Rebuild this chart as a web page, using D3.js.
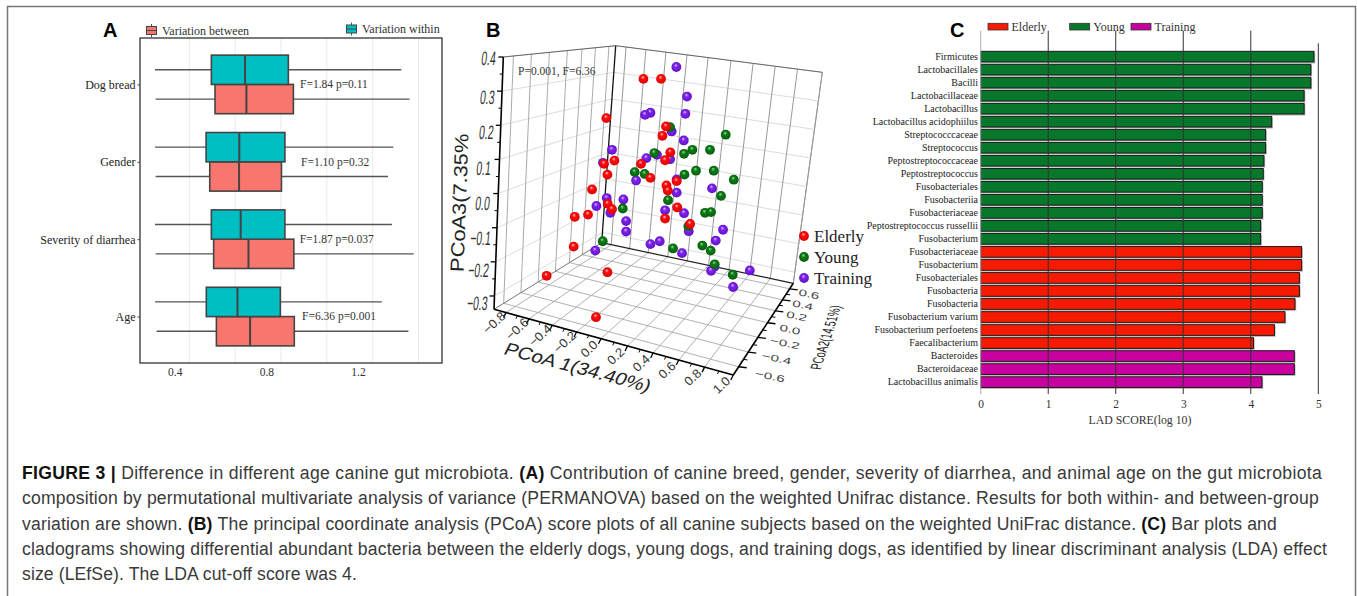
<!DOCTYPE html>
<html>
<head>
<meta charset="utf-8">
<script src="https://cdn.jsdelivr.net/npm/d3@7"></script>
<style>
body{margin:0;background:#fff;}
svg{display:block;}
.serif{font-family:"Liberation Serif",serif;}
.sans{font-family:"Liberation Sans",sans-serif;}
</style>
</head>
<body>
<script>
// panel A
var boxCategories=["Dog bread","Gender","Severity of diarrhea","Age"];
// low, q1, median, q3, high
var withinStats=[[.314,.560,.707,.896,1.389],[.314,.537,.682,.881,1.354],[.314,.560,.688,.881,1.348],[.314,.538,.674,.861,1.304]];
var betweenStats=[[.317,.576,.713,.918,1.425],[.317,.553,.681,.866,1.331],[.317,.570,.722,.920,1.443],[.321,.582,.729,.922,1.420]];
var boxNotes=["F=1.84 p=0.11","F=1.10 p=0.32","F=1.87 p=0.037","F=6.36 p=0.001"];
var boxTicks=[.4,.8,1.2];
var boxGrid=[.464,.664,.864,1.064,1.264,1.464];

// panel B, [PCoA1, PCoA3] as read along the drawn axes
var elderlyPts=[[.319,.340],[.450,.340],[.043,.231],[.487,.208],[.460,.182],[.519,.136],[.480,.114],[.103,.113],[.026,.104],[.301,.104],[.051,.074],[.371,.065],[.566,.056],[.490,.044],[.500,.030],[-.063,.033],[.053,-.007],[.085,-.022],[-.093,-.037],[-.192,-.043],[.571,-.017],[.480,-.048],[.666,-.063],[-.200,-.126],[-.401,-.207],[.051,-.197],[-.034,-.322]];
var youngPts=[[.517,.206],[.931,.185],[.814,.143],[.683,.143],[.621,.132],[.400,.134],[.710,.085],[.842,.085],[.624,.074],[.254,.081],[.328,.076],[.991,.060],[.896,.015],[.502,.003],[.165,-.020],[.777,-.032],[.822,-.030],[.653,-.069],[.016,-.111],[.757,-.123],[.819,-.137],[.539,-.131],[.849,-.175],[.983,-.204]];
var trainingPts=[[.564,.373],[.643,.291],[.631,.243],[.371,.246],[.331,.240],[.529,.194],[.619,.169],[.085,.143],[.018,.107],[.420,.129],[.517,.117],[.341,.120],[.264,.058],[.566,.061],[.829,.036],[.566,.024],[.046,.009],[.170,.005],[-.031,-.013],[.073,-.032],[.480,-.025],[.621,-.033],[.190,-.055],[.190,-.084],[.656,-.083],[.911,-.079],[.371,-.119],[.440,-.111],[.857,-.109],[.606,-.144],[-.039,-.137],[.847,-.182],[.822,-.193],[1.110,-.192],[.986,-.238]];
var pc1Ticks=[-.8,-.6,-.4,-.2,0,.2,.4,.6,.8,1];
var pc2Ticks=[-.6,-.4,-.2,0,.2,.4,.6];
var pc3Ticks=[-.3,-.2,-.1,0,.1,.2,.3,.4];

// panel C
var lefseNames=["Firmicutes","Lactobacillales","Bacilli","Lactobacillaceae","Lactobacillus","Lactobacillus acidophiilus","Streptococccaceae","Streptococcus","Peptostreptococcaceae","Peptostreptococcus","Fusobacteriales","Fusobacteriia","Fusobacteriaceae","Peptostreptococcus russellii","Fusobacterium","Fusobacteriaceae","Fusobacterium","Fusobacteriales","Fusobacteria","Fusobacteria","Fusobacterium varium","Fusobacterium perfoetens","Faecalibacterium","Bacteroides","Bacteroidaceae","Lactobacillus animalis"];
var lefseScores=[4.936,4.89,4.89,4.79,4.79,4.31,4.22,4.22,4.195,4.185,4.17,4.17,4.17,4.146,4.146,4.753,4.753,4.72,4.72,4.655,4.506,4.35,4.04,4.645,4.645,4.166];
var lefseGroups=["Y","Y","Y","Y","Y","Y","Y","Y","Y","Y","Y","Y","Y","Y","Y","E","E","E","E","E","E","E","E","T","T","T"];
var lefseTicks=[0,1,2,3,4,5];

var captionLines=[
 [["FIGURE 3 | ",1],["Difference in different age canine gut microbiota. ",0],["(A) ",1],["Contribution of canine breed, gender, severity of diarrhea, and animal age on the gut microbiota",0]],
 [["composition by permutational multivariate analysis of variance (PERMANOVA) based on the weighted Unifrac distance. Results for both within- and between-group",0]],
 [["variation are shown. ",0],["(B) ",1],["The principal coordinate analysis (PCoA) score plots of all canine subjects based on the weighted UniFrac distance. ",0],["(C) ",1],["Bar plots and",0]],
 [["cladograms showing differential abundant bacteria between the elderly dogs, young dogs, and training dogs, as identified by linear discriminant analysis (LDA) effect",0]],
 [["size (LEfSe). The LDA cut-off score was 4.",0]]
];
var captionEnds=[1322,1319,1277,1327,357];

var svg=d3.select("body").append("svg").attr("width",1357).attr("height",596);

// outer frame
svg.append("path").attr("d","M7.5,596V6.5H1355.5V596").attr("fill","none").attr("stroke","#777").attr("stroke-width",1.5);

function panelLetter(t,x){
    svg.append("text").attr("class","sans").attr("x",x).attr("y",37).attr("font-size",20).attr("font-weight","bold").attr("fill","#000").text(t);
}
panelLetter("A",103);panelLetter("B",486);panelLetter("C",950);

/* ---------- A ---------- */
var ax=d3.scaleLinear().domain([.2486,1.5666]).range([140,442]);
var ay=d3.scalePoint().domain(boxCategories).range([38,363]).padding(.6);
var boxH=29.3;
var colWithin="#00BFC4",colBetween="#F8766D",boxLine="#444";

var A=svg.append("g");
A.selectAll(".grid").data(boxGrid).enter().append("line")
    .attr("x1",ax).attr("x2",ax).attr("y1",38).attr("y2",363).attr("stroke","#ebebeb").attr("stroke-width",1);

function drawBoxes(stats,fill,off){
    var g=A.selectAll(null).data(stats).enter().append("g");
    function cy(i){return ay(boxCategories[i])+off;}
    g.append("line").attr("x1",function(d){return ax(d[0]);}).attr("x2",function(d){return ax(d[4]);})
        .attr("y1",function(d,i){return cy(i);}).attr("y2",function(d,i){return cy(i);})
        .attr("stroke","#555").attr("stroke-width",1.4);
    g.append("rect").attr("x",function(d){return ax(d[1]);}).attr("width",function(d){return ax(d[3])-ax(d[1]);})
        .attr("y",function(d,i){return cy(i)-boxH/2;}).attr("height",boxH)
        .attr("fill",fill).attr("stroke",boxLine).attr("stroke-width",1.6);
    g.append("line").attr("x1",function(d){return ax(d[2]);}).attr("x2",function(d){return ax(d[2]);})
        .attr("y1",function(d,i){return cy(i)-boxH/2;}).attr("y2",function(d,i){return cy(i)+boxH/2;})
        .attr("stroke",boxLine).attr("stroke-width",2);
}
drawBoxes(betweenStats,colBetween,boxH/2);
drawBoxes(withinStats,colWithin,-boxH/2);

A.append("rect").attr("x",140).attr("y",38).attr("width",302).attr("height",325).attr("fill","none").attr("stroke","#333").attr("stroke-width",1.3);

var axB=A.append("g").attr("class","serif").attr("transform","translate(0,363)")
    .call(d3.axisBottom(ax).tickValues(boxTicks).tickSize(0).tickPadding(5).tickFormat(d3.format(".1f")));
axB.select(".domain").remove();
axB.selectAll("text").attr("font-size",11.5).attr("fill","#333").attr("font-family","Liberation Serif");

var axL=A.append("g").attr("class","serif").attr("transform","translate(140,0)")
    .call(d3.axisLeft(ay).tickSize(2.5).tickPadding(2));
axL.select(".domain").remove();
axL.selectAll("line").attr("stroke","#444");
axL.selectAll("text").attr("font-size",12).attr("fill","#222").attr("font-family","Liberation Serif");

var noteX=[300,301,299.7,302];
A.selectAll(".note").data(boxNotes).enter().append("text").attr("class","serif")
    .attr("x",function(d,i){return noteX[i];})
    .attr("y",function(d,i){return ay(boxCategories[i]);})
    .attr("dy",".33em").attr("font-size",11.5).attr("fill","#333").text(function(d){return d;});

function boxKey(x,y,fill,label){
    A.append("line").attr("x1",x+5).attr("x2",x+5).attr("y1",y-1.5).attr("y2",y+11.5).attr("stroke","#555");
    A.append("rect").attr("x",x).attr("y",y+1).attr("width",10).attr("height",8).attr("fill",fill).attr("stroke",boxLine);
    A.append("line").attr("x1",x).attr("x2",x+10).attr("y1",y+5).attr("y2",y+5).attr("stroke",boxLine);
    A.append("text").attr("class","serif").attr("x",x+15.5).attr("y",y+9).attr("font-size",12).attr("fill","#333").text(label);
}
boxKey(146.5,25.5,colBetween,"Variation between");
boxKey(346.5,24,colWithin,"Variation within");

/* ---------- B ---------- */
var B=svg.append("g");
var defs=svg.append("defs");
var sphereCols={
    elderly:["#ffc8c8","#ff0d0d","#d80000"],
    young:["#a8d8a8","#0a7d14","#075a0e"],
    training:["#dcc0ff","#7f22ee","#5f12c0"]
};
Object.keys(sphereCols).forEach(function(k){
    var g=defs.append("radialGradient").attr("id","ball-"+k).attr("cx",.5).attr("cy",.5).attr("r",.55).attr("fx",.42).attr("fy",.3);
    g.append("stop").attr("offset",0).attr("stop-color",sphereCols[k][0]);
    g.append("stop").attr("offset",.35).attr("stop-color",sphereCols[k][1]);
    g.append("stop").attr("offset",1).attr("stop-color",sphereCols[k][2]);
});

// box corners on screen, t scales below go 0..1 along each edge
var floorC={ll:[494,309.3],rl:[733.3,375],lb:[601.7,242.7],rb:[793.3,283.3]};
var topC={ll:[503.3,57],lb:[615.7,45.7],rb:[822.3,72.3]};
topC.rl=[topC.rb[0]+floorC.rl[0]-floorC.rb[0],topC.rb[1]+floorC.rl[1]-floorC.rb[1]];
var t1=d3.scaleLinear().domain([-.9,-.8,-.6,-.4,-.2,0,.2,.4,.6,.8,1]).range([0,.05,.146,.243,.345,.447,.558,.665,.772,.88,1]);
var t2=d3.scaleLinear().domain([-.68,-.6,-.4,-.2,0,.2,.4,.6,.66]).range([0,.09,.25,.41,.57,.70,.82,.94,1]);
var t3=d3.scaleLinear().domain([-.339,.4]).range([0,1]);

function project(p1,p2,p3){
    var a=t1(p1),b=t2(p2),c=t3(p3);
    function mix(C,i){
        var f=C.ll[i]+(C.rl[i]-C.ll[i])*a, n=C.lb[i]+(C.rb[i]-C.lb[i])*a;
        return f+(n-f)*b;
    }
    var lo=[mix(floorC,0),mix(floorC,1)],hi=[mix(topC,0),mix(topC,1)];
    return [lo[0]+(hi[0]-lo[0])*c,lo[1]+(hi[1]-lo[1])*c];
}
function seg(g,a,b,col,w){
    g.append("line").attr("x1",a[0]).attr("y1",a[1]).attr("x2",b[0]).attr("y2",b[1]).attr("stroke",col).attr("stroke-width",w);
}
var p1Lo=-.9,p1Hi=1,p2Lo=-.68,p2Hi=.66,p3Lo=-.339,p3Hi=.4;
var gridG=B.append("g");
// wall horizontals first, they are the lighter ones
pc3Ticks.forEach(function(z){
    seg(gridG,project(p1Lo,p2Lo,z),project(p1Lo,p2Hi,z),"#dcdcdc",1);
    seg(gridG,project(p1Lo,p2Hi,z),project(p1Hi,p2Hi,z),"#dcdcdc",1);
});
pc2Ticks.forEach(function(y){
    seg(gridG,project(p1Lo,y,p3Lo),project(p1Lo,y,p3Hi),"#aaa",1);
    seg(gridG,project(p1Lo,y,p3Lo),project(p1Hi,y,p3Lo),"#a8a8a8",.9);
});
pc1Ticks.forEach(function(x){
    seg(gridG,project(x,p2Hi,p3Lo),project(x,p2Hi,p3Hi),"#999",1);
    seg(gridG,project(x,p2Lo,p3Lo),project(x,p2Hi,p3Lo),"#a8a8a8",.9);
});
// box edges
seg(gridG,project(p1Lo,p2Lo,p3Hi),project(p1Lo,p2Hi,p3Hi),"#666",1);
seg(gridG,project(p1Lo,p2Hi,p3Hi),project(p1Hi,p2Hi,p3Hi),"#666",1);
seg(gridG,project(p1Hi,p2Hi,p3Lo),project(p1Hi,p2Hi,p3Hi),"#999",1);
seg(gridG,project(p1Lo,p2Lo,p3Lo),project(p1Lo,p2Hi,p3Lo),"#777",1);
seg(gridG,project(p1Lo,p2Hi,p3Lo),project(p1Hi,p2Hi,p3Lo),"#222",1.2);
// black axes
seg(B,project(p1Lo,p2Hi,p3Lo),project(p1Lo,p2Hi,p3Hi),"#111",1.3);
seg(B,project(p1Lo,p2Lo,p3Lo),project(p1Lo,p2Lo,p3Hi),"#000",1.6);
seg(B,project(p1Lo,p2Lo,p3Lo),project(p1Hi,p2Lo,p3Lo),"#000",1.6);
seg(B,project(p1Hi,p2Lo,p3Lo),project(p1Hi,p2Hi,p3Lo),"#000",1.6);

function midpoints(a){
    return a.slice(0,-1).map(function(v,i){return (v+a[i+1])/2;});
}
// z ticks
pc3Ticks.forEach(function(z){var p=project(p1Lo,p2Lo,z);seg(B,p,[p[0]-5,p[1]],"#000",1.3);});
midpoints(pc3Ticks).forEach(function(z){var p=project(p1Lo,p2Lo,z);seg(B,p,[p[0]-3,p[1]],"#000",1);});
// x ticks
pc1Ticks.forEach(function(x){var p=project(x,p2Lo,p3Lo);seg(B,p,[p[0]-2.5,p[1]+5],"#000",1.3);});
midpoints(pc1Ticks).forEach(function(x){var p=project(x,p2Lo,p3Lo);seg(B,p,[p[0]-1.5,p[1]+3],"#000",1);});
// y ticks
pc2Ticks.forEach(function(y){var p=project(p1Hi,y,p3Lo);seg(B,p,[p[0]+8,p[1]+1],"#000",1.3);});
midpoints(pc2Ticks).forEach(function(y){var p=project(p1Hi,y,p3Lo);seg(B,p,[p[0]+4,p[1]+.5],"#000",1);});

// tick labels are squeezed / sheared like the original perspective
var zLabX=d3.scaleLinear().domain(pc3Ticks).range([476.7,478,480,482,483,485.7,486.7,488]);
var zLabY=d3.scaleLinear().domain(pc3Ticks).range([303,270,238,203,168,131.7,96.7,58]);
B.selectAll(".zl").data(pc3Ticks).enter().append("text").attr("class","sans")
    .attr("text-anchor","middle").attr("font-size",19.5).attr("fill","#333")
    .attr("transform",function(d){return "translate("+zLabX(d)+","+(zLabY(d)+7)+") skewX(-6) scale(.53,1)";})
    .text(d3.format(".1f"));
B.selectAll(".xl").data(pc1Ticks).enter().append("text").attr("class","sans")
    .attr("text-anchor","middle").attr("font-size",12.5).attr("fill","#333")
    .attr("transform",function(d){var p=project(d,p2Lo,p3Lo);return "translate("+(p[0]-12)+","+(p[1]+10)+") rotate(-43) translate(0,4.5) scale(1.05,1)";})
    .text(d3.format(".1f"));
var yLabX=d3.scaleLinear().domain(pc2Ticks).range([770,776.7,785,790,796.7,802.7,809]);
var yLabY=d3.scaleLinear().domain(pc2Ticks).range([376,358.3,343,329.3,316,305,294]);
B.selectAll(".yl").data(pc2Ticks).enter().append("text").attr("class","sans")
    .attr("text-anchor","middle").attr("font-size",9.5).attr("fill","#444")
    .attr("transform",function(d){return "translate("+yLabX(d)+","+yLabY(d)+") rotate(12) translate(0,3.5) scale(1.6,1)";})
    .text(d3.format(".1f"));

B.append("text").attr("class","sans").attr("text-anchor","middle").attr("font-size",19).attr("fill","#222")
    .attr("transform","translate(466,203) rotate(-88) scale(1.15,1)").text("PCoA3(7.35%");
B.append("text").attr("class","sans").attr("text-anchor","middle").attr("font-size",18).attr("fill","#222")
    .attr("transform","translate(575,373) rotate(14.8) skewX(-12) scale(1.12,1)").text("PCoA 1(34.40%)");
B.append("text").attr("class","sans").attr("text-anchor","middle").attr("font-size",15).attr("fill","#222")
    .attr("transform","translate(831,338) rotate(-72) skewX(12) scale(.62,1)").text("PCoA2(14.51%)");
B.append("text").attr("class","serif").attr("x",518).attr("y",75).attr("font-size",11.5).attr("fill","#333").text("P=0.001, F=6.36");

// scatter is placed on the picture plane, PCoA1 and PCoA3 readings
var planeX=d3.scaleLinear().domain([-.8,1]).range([493,735]);
var planeY=d3.scaleLinear().domain([-.3,.4]).range([309.3,57.3]);
function balls(pts,name){
    B.selectAll(".b-"+name).data(pts).enter().append("circle").attr("class","b-"+name)
        .attr("cx",function(d){return planeX(d[0]);}).attr("cy",function(d){return planeY(d[1]);})
        .attr("r",4.9).attr("fill","url(#ball-"+name+")");
}
balls(trainingPts,"training");
balls(youngPts,"young");
balls(elderlyPts,"elderly");

var keyNames=["Elderly","Young","Training"];
var keyIds=["elderly","young","training"];
var keyY=d3.scalePoint().domain(keyNames).range([236,278]);
B.selectAll(".kb").data(keyNames).enter().append("circle")
    .attr("cx",804).attr("cy",keyY).attr("r",4.9)
    .attr("fill",function(d,i){return "url(#ball-"+keyIds[i]+")";});
B.selectAll(".kt").data(keyNames).enter().append("text").attr("class","serif")
    .attr("x",814).attr("y",function(d){return keyY(d)+6;}).attr("font-size",17).attr("fill","#222").text(function(d){return d;});

/* ---------- C ---------- */
var C=svg.append("g");
var cx=d3.scaleLinear().domain([0,5]).range([980.7,1318.3]);
var cy=d3.scaleBand().domain(d3.range(lefseNames.length)).range([50.1,388.6]).paddingInner(.18).paddingOuter(.09);
var groupCol={Y:"#07772c",E:"#f51a00",T:"#c800a0"};

C.selectAll(".shadow").data(lefseScores).enter().append("rect")
    .attr("x",cx(0)).attr("y",function(d,i){return cy(i)+1;})
    .attr("width",function(d){return cx(d)-cx(0)+1.2;}).attr("height",cy.bandwidth()+.5).attr("fill","#b5b5b5");
C.selectAll(".bar").data(lefseScores).enter().append("rect")
    .attr("x",cx(0)).attr("y",function(d,i){return cy(i);})
    .attr("width",function(d){return cx(d)-cx(0);}).attr("height",cy.bandwidth())
    .attr("fill",function(d,i){return groupCol[lefseGroups[i]];}).attr("stroke","#111").attr("stroke-width",.9);

C.selectAll(".vline").data(lefseTicks).enter().append("line")
    .attr("x1",cx).attr("x2",cx)
    .attr("y1",function(d){return d==5?43.3:30.7;}).attr("y2",394)
    .attr("stroke",function(d){return d==0?"#aaa":"#333";}).attr("stroke-width",1);

var cxA=C.append("g").attr("class","serif").attr("transform","translate(0,394)")
    .call(d3.axisBottom(cx).tickValues(lefseTicks).tickSize(0).tickPadding(6).tickFormat(d3.format("d")));
cxA.select(".domain").remove();
cxA.selectAll("text").attr("font-size",11.5).attr("fill","#333").attr("font-family","Liberation Serif");
C.append("text").attr("class","serif").attr("x",1140).attr("y",424).attr("text-anchor","middle").attr("font-size",11.8).attr("fill","#333").text("LAD SCORE(log 10)");

C.selectAll(".name").data(lefseNames).enter().append("text").attr("class","serif")
    .attr("x",978).attr("y",function(d,i){return cy(i)+cy.bandwidth()/2;}).attr("dy",".33em")
    .attr("text-anchor","end").attr("font-size",10).attr("fill","#222").text(function(d){return d;});

var cKeys=["Elderly","Young","Training"],cKeyX=[988,1069.7,1131],cKeyG=["E","Y","T"];
C.selectAll(".ck").data(cKeys).enter().append("rect")
    .attr("x",function(d,i){return cKeyX[i];}).attr("y",23.3).attr("width",20).attr("height",6.7)
    .attr("fill",function(d,i){return groupCol[cKeyG[i]];}).attr("stroke","#333").attr("stroke-width",.8);
C.selectAll(".ckt").data(cKeys).enter().append("text").attr("class","serif")
    .attr("x",function(d,i){return cKeyX[i]+23.5;}).attr("y",30.5).attr("font-size",12).attr("fill","#333").text(function(d){return d;});

/* ---------- caption ---------- */
var capY=d3.scaleLinear().domain([0,4]).range([479,580]);
var cap=svg.selectAll(".cap").data(captionLines).enter().append("text").attr("class","sans")
    .attr("x",22).attr("y",function(d,i){return capY(i);}).attr("font-size",17.6).attr("fill","#3a3a3a");
cap.selectAll("tspan").data(function(d){return d;}).enter().append("tspan")
    .attr("font-weight",function(d){return d[1]?"bold":"normal";})
    .attr("fill",function(d){return d[1]?"#111":"#3a3a3a";})
    .text(function(d){return d[0];});
// stretch each line to its width in the figure
cap.each(function(d,i){
    var n=this.getNumberOfChars(),len=this.getComputedTextLength();
    d3.select(this).attr("letter-spacing",(captionEnds[i]-22-len)/n);
});
</script>
</body>
</html>
